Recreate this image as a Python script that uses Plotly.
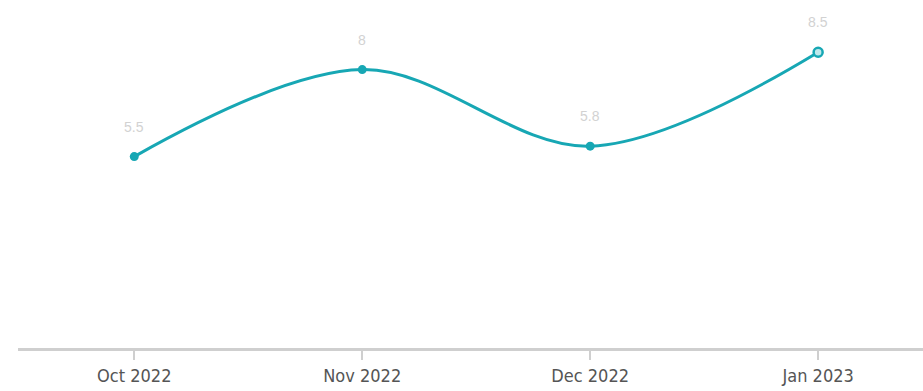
import plotly.graph_objects as go

months = ["Oct 2022", "Nov 2022", "Dec 2022", "Jan 2023"]
values = [5.5, 8.0, 5.8, 8.5]

TEAL = "#17a7b4"

fig = go.Figure()
fig.add_trace(go.Scatter(
    x=months,
    y=values,
    mode="lines+markers",
    line=dict(color=TEAL, width=3, shape="spline", smoothing=1.0),
    marker=dict(
        size=9,
        color=[TEAL, TEAL, TEAL, "#bfe9ec"],
        line=dict(color=TEAL, width=[0, 0, 0, 2.5]),
    ),
    hoverinfo="skip",
    showlegend=False,
))

# faint value labels above each point
for m, v in zip(months, values):
    fig.add_annotation(
        x=m, y=v, text=f"{v:g}", showarrow=False, yshift=30,
        font=dict(family="Liberation Sans Narrow, Liberation Sans, sans-serif",
                  size=14, color="#d2d2d2"),
        bgcolor="rgba(255,255,255,0.9)",
    )

fig.update_layout(
    width=923, height=391,
    margin=dict(l=18, r=0, t=0, b=43),
    paper_bgcolor="white",
    plot_bgcolor="white",
    xaxis=dict(
        type="category",
        range=[-0.51, 3.46],
        showgrid=False,
        zeroline=False,
        showline=True,
        linecolor="#cfcfcf",
        linewidth=3,
        ticks="outside",
        ticklen=9,
        tickwidth=1.5,
        tickcolor="#cfcfcf",
        tickfont=dict(family="Liberation Sans Narrow, DejaVu Sans Condensed, sans-serif",
                      size=18, color="#555555"),
    ),
    yaxis=dict(
        range=[0, 10],
        visible=False,
        showgrid=False,
        zeroline=False,
    ),
)

fig.write_html("out.html")
